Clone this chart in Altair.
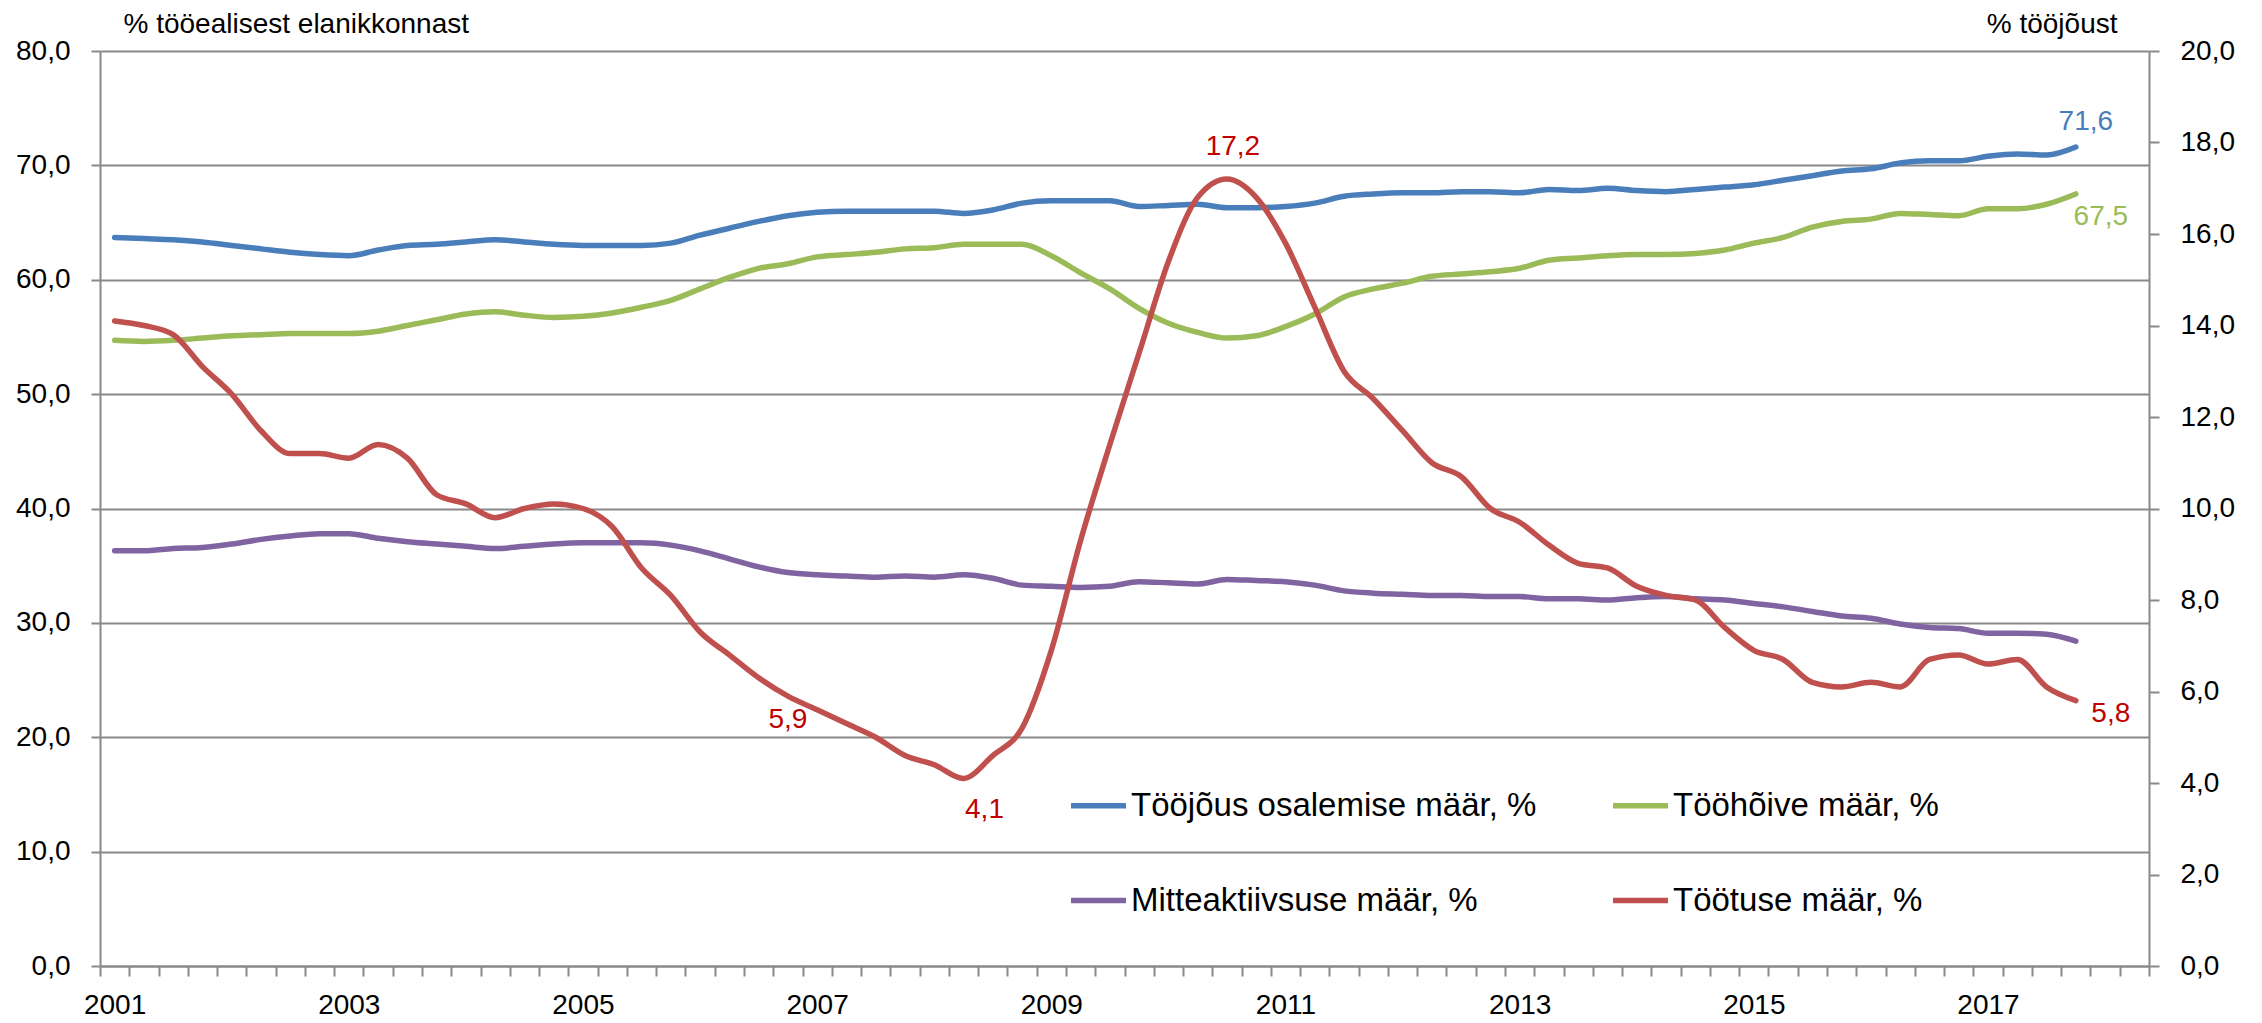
import altair as alt
import pandas as pd

# ---------------- data (quarterly, 2001 Q1 ... 2017 Q4) ----------------
start_year = 2001
n_slots = 70  # category slots on the x axis (2001 Q1 ... 2018 Q2)

series_names = [
    "Tööjõus osalemise määr, %",
    "Tööhõive määr, %",
    "Mitteaktiivsuse määr, %",
    "Töötuse määr, %",
]
series_colors = ["#4A7EBB", "#9BBB59", "#8064A2", "#C0504D"]
# legend fills column by column: column 1 = blue, purple; column 2 = green, red
legend_order = [0, 2, 1, 3]

osalemine = [63.7, 63.6, 63.5, 63.3, 63.0, 62.7, 62.4, 62.2, 62.1, 62.6, 63.0, 63.1,
             63.3, 63.5, 63.3, 63.1, 63.0, 63.0, 63.0, 63.2, 63.9, 64.5, 65.1, 65.6,
             65.9, 66.0, 66.0, 66.0, 66.0, 65.8, 66.1, 66.7, 66.9, 66.9, 66.9, 66.4,
             66.5, 66.6, 66.3, 66.3, 66.4, 66.7, 67.3, 67.5, 67.6, 67.6, 67.7, 67.7,
             67.6, 67.9, 67.8, 68.0, 67.8, 67.7, 67.9, 68.1, 68.3, 68.7, 69.1, 69.5,
             69.7, 70.2, 70.4, 70.4, 70.8, 71.0, 70.9, 71.6]

hoive = [54.7, 54.6, 54.7, 54.9, 55.1, 55.2, 55.3, 55.3, 55.3, 55.5, 56.0, 56.5,
         57.0, 57.2, 56.9, 56.7, 56.8, 57.1, 57.6, 58.2, 59.2, 60.2, 61.0, 61.4,
         62.0, 62.2, 62.4, 62.7, 62.8, 63.1, 63.1, 63.1, 62.1, 60.6, 59.2, 57.5,
         56.2, 55.4, 54.9, 55.1, 55.9, 57.0, 58.5, 59.2, 59.7, 60.3, 60.5, 60.7,
         61.0, 61.7, 61.9, 62.1, 62.2, 62.2, 62.3, 62.6, 63.2, 63.7, 64.6, 65.1,
         65.3, 65.8, 65.7, 65.6, 66.2, 66.2, 66.6, 67.5]

mitteaktiivsus = [36.3, 36.3, 36.5, 36.6, 36.9, 37.3, 37.6, 37.8, 37.8, 37.4, 37.1, 36.9,
                  36.7, 36.5, 36.7, 36.9, 37.0, 37.0, 37.0, 36.8, 36.3, 35.6, 34.9, 34.4,
                  34.2, 34.1, 34.0, 34.1, 34.0, 34.2, 33.9, 33.3, 33.2, 33.1, 33.2, 33.6,
                  33.5, 33.4, 33.8, 33.7, 33.6, 33.3, 32.8, 32.6, 32.5, 32.4, 32.4, 32.3,
                  32.3, 32.1, 32.1, 32.0, 32.2, 32.3, 32.1, 32.0, 31.7, 31.4, 31.0, 30.6,
                  30.4, 29.9, 29.6, 29.5, 29.1, 29.1, 29.0, 28.4]

tootus = [14.1, 14.0, 13.8, 13.1, 12.5, 11.7, 11.2, 11.2, 11.1, 11.4, 11.1, 10.3,
          10.1, 9.8, 10.0, 10.1, 10.0, 9.6, 8.7, 8.1, 7.3, 6.8, 6.3, 5.9,
          5.6, 5.3, 5.0, 4.6, 4.4, 4.1, 4.6, 5.2, 6.9, 9.3, 11.4, 13.4,
          15.4, 16.8, 17.2, 16.8, 15.8, 14.4, 13.0, 12.4, 11.7, 11.0, 10.7, 10.0,
          9.7, 9.2, 8.8, 8.7, 8.3, 8.1, 8.0, 7.4, 6.9, 6.7, 6.2, 6.1,
          6.2, 6.1, 6.7, 6.8, 6.6, 6.7, 6.1, 5.8]

left_ticks = [0, 10, 20, 30, 40, 50, 60, 70, 80]
right_ticks = [0, 2, 4, 6, 8, 10, 12, 14, 16, 18, 20]

# point labels: (series index, quarter index)
left_labels = [(0, 67), (1, 67)]
right_labels = [38, 23, 29, 67]

FONT = "Liberation Sans"
GRID = "#898989"


def fmt(v):
    return f"{v:.1f}".replace(".", ",")


left_rows = []
for name, vals in zip(series_names[:3], [osalemine, hoive, mitteaktiivsus]):
    for i, v in enumerate(vals):
        left_rows.append({"q": i + 0.5, "value": v, "series": name})
left_df = pd.DataFrame(left_rows)
right_df = pd.DataFrame({"q": [i + 0.5 for i in range(len(tootus))],
                         "value": tootus, "series": series_names[3]})

x_enc = alt.X(
    "q:Q",
    scale=alt.Scale(domain=[0, n_slots], nice=False, zero=False),
    axis=alt.Axis(
        values=list(range(n_slots + 1)),
        labelExpr=f"datum.value % 8 == 0 ? toString({start_year} + datum.value / 4) : ''",
        labelOffset=14.6,
        labelOverlap=False,
        labelFlush=False,
        labelBaseline="middle",
        labelPadding=29,
        tickSize=10,
        grid=False,
        title=None,
    ),
)

y_left = alt.Y(
    "value:Q",
    scale=alt.Scale(domain=[0, 80], nice=False, zero=True),
    axis=alt.Axis(
        orient="left",
        values=left_ticks,
        labelExpr="replace(format(datum.value, '.1f'), '.', ',')",
        grid=True,
        tickSize=9,
        labelPadding=21,
        title="% tööealisest elanikkonnast",
        titleAngle=0,
        titleAlign="left",
        titleBaseline="alphabetic",
        titleX=23,
        titleY=-19,
    ),
)

y_right = alt.Y(
    "value:Q",
    scale=alt.Scale(domain=[0, 20], nice=False, zero=True),
    axis=alt.Axis(
        orient="right",
        values=right_ticks,
        labelExpr="replace(format(datum.value, '.1f'), '.', ',')",
        grid=False,
        tickSize=10,
        labelPadding=21,
        title="% tööjõust",
        titleAngle=0,
        titleAlign="right",
        titleBaseline="alphabetic",
        titleX=-32,
        titleY=-19,
    ),
)

color_enc = alt.Color(
    "series:N",
    scale=alt.Scale(domain=[series_names[k] for k in legend_order],
                    range=[series_colors[k] for k in legend_order]),
    legend=alt.Legend(
        title=None,
        orient="none",
        legendX=968,
        legendY=724,
        columns=2,
        columnPadding=65,
        rowPadding=47,
        padding=0,
        symbolType="stroke",
        symbolSize=3025,
        symbolStrokeWidth=5.5,
        labelFont=FONT,
        labelFontSize=33,
        labelColor="black",
        labelOffset=2,
        labelLimit=0,
    ),
)

line_props = dict(interpolate="monotone", strokeWidth=5.5, strokeCap="round", strokeJoin="round")

left_lines = alt.Chart(left_df).mark_line(**line_props).encode(
    x=x_enc, y=y_left, color=color_enc, detail="series:N"
)

left_text_colors = ["#4A7EBB", "#9BBB59"]
left_offsets = [(10, -25), (25, 23)]
left_texts = []
for (si, qi), col, (dx, dy) in zip(left_labels, left_text_colors, left_offsets):
    v = [osalemine, hoive][si][qi]
    d = pd.DataFrame({"q": [qi + 0.5], "value": [v], "label": [fmt(v)]})
    left_texts.append(
        alt.Chart(d).mark_text(font=FONT, fontSize=28, color=col, dx=dx, dy=dy,
                               align="center", baseline="middle")
        .encode(x=x_enc, y=y_left, text="label:N")
    )

right_line = alt.Chart(right_df).mark_line(**line_props).encode(
    x=x_enc, y=y_right, color=color_enc
)

right_offsets = [(6, -32), (0, 24), (21, 32), (35, 13)]
right_texts = []
for qi, (dx, dy) in zip(right_labels, right_offsets):
    v = tootus[qi]
    d = pd.DataFrame({"q": [qi + 0.5], "value": [v], "label": [fmt(v)]})
    right_texts.append(
        alt.Chart(d).mark_text(font=FONT, fontSize=28, color="#C00000", dx=dx, dy=dy,
                               align="center", baseline="middle")
        .encode(x=x_enc, y=y_right, text="label:N")
    )

left_group = alt.layer(left_lines, *left_texts)
right_group = alt.layer(right_line, *right_texts)

chart = (
    alt.layer(left_group, right_group)
    .resolve_scale(y="independent")
    .properties(
        width=2049,
        height=915,
        autosize=alt.AutoSizeParams(type="none"),
        padding={"left": 92, "top": 43, "right": 95, "bottom": 56},
        background="white",
    )
    .configure_view(stroke=None)
    .configure_axis(
        domainColor=GRID,
        domainWidth=2,
        tickColor=GRID,
        tickWidth=2,
        gridColor=GRID,
        gridWidth=1.8,
        labelFont=FONT,
        labelFontSize=28,
        labelColor="black",
        titleFont=FONT,
        titleFontSize=28,
        titleFontWeight="normal",
        titleColor="black",
    )
)

chart.save("out.html", embed_options={"renderer": "svg", "actions": False})
